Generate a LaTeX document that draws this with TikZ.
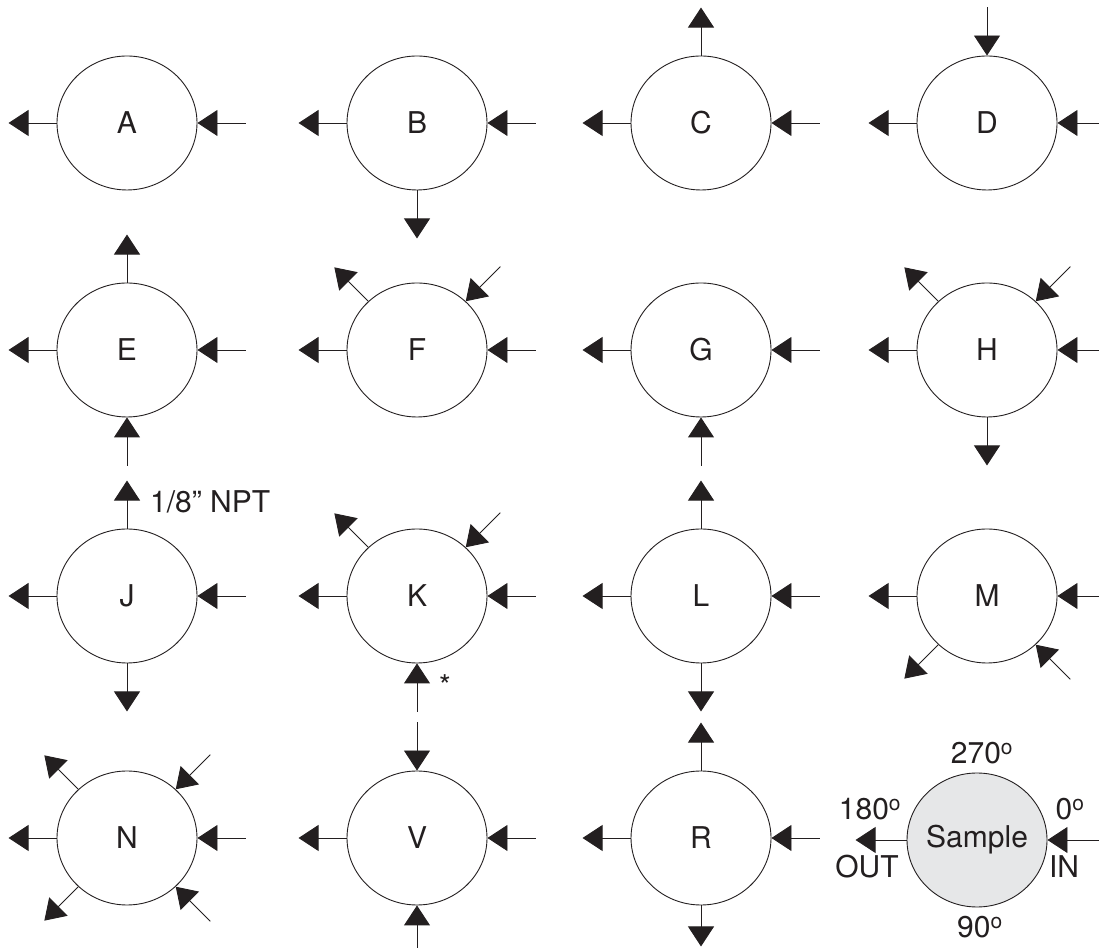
\documentclass[tikz,border=0pt]{standalone}
\usepackage{fontspec}
\setmainfont{TeX Gyre Heros}
\usetikzlibrary{arrows.meta,shapes.geometric}
\definecolor{ink}{RGB}{35,31,32}
\definecolor{samplefill}{RGB}{230,231,232}
\begin{document}
\begin{tikzpicture}[x=1pt,y=1pt,
  port/.style={ellipse, draw=ink, line width=0.9pt, minimum width=140pt, minimum height=134pt, inner sep=0pt, text=ink, font=\fontsize{30}{36}\selectfont},
  outlet/.style={draw=ink, line width=0.9pt, -{Triangle[length=20pt,width=26pt]}},
  inlet/.style={draw=ink, line width=0.9pt, {Triangle[length=20pt,width=26pt]}-},
  lbl/.style={font=\fontsize{30}{36}\selectfont, inner sep=0pt, text=ink}]
\useasboundingbox (0,0) rectangle (1099,949);
% row 1
\node[port] (A) at (127,826) {A};
\node[port] (B) at (417,826) {B};
\node[port] (C) at (701,826) {C};
\node[port] (D) at (987,826) {D};
% row 2
\node[port] (E) at (127,599) {E};
\node[port] (F) at (417,599) {F};
\node[port] (G) at (701,599) {G};
\node[port] (H) at (987,599) {H};
% row 3
\node[port] (J) at (127,353) {J};
\node[port] (K) at (417,353) {K};
\node[port] (L) at (701,353) {L};
\node[port] (M) at (987,353) {M};
% row 4
\node[port] (N) at (127,111) {N};
\node[port] (V) at (417,111) {V};
\node[port] (R) at (701,111) {R};
\node[port, fill=samplefill] (S) at (977,109) {};
% standard side ports
\foreach \n in {A,B,C,D,E,F,G,H,J,K,L,M,N,V,R}{
  \draw[outlet] (\n.west) -- ++(-48,0);
  \draw[inlet] (\n.east) -- ++(49,0);
}
% extra ports
\draw[outlet] (B.south) -- ++(0,-48);
\draw[outlet] (C.north) -- ++(0,48);
\draw[inlet] (D.north) -- ++(0,49);
\draw[outlet] (E.north) -- ++(0,48);
\draw[inlet] (E.south) -- ++(0,-49);
\draw[outlet] (F.135) -- ++(135:48);
\draw[inlet] (F.45) -- ++(45:49);
\draw[inlet] (G.south) -- ++(0,-49);
\draw[outlet] (H.135) -- ++(135:48);
\draw[inlet] (H.45) -- ++(45:49);
\draw[outlet] (H.south) -- ++(0,-48);
\draw[outlet] (J.north) -- ++(0,48);
\draw[outlet] (J.south) -- ++(0,-48);
\draw[outlet] (K.135) -- ++(135:48);
\draw[inlet] (K.45) -- ++(45:49);
\draw[inlet] (K.south) -- ++(0,-49);
\draw[outlet] (L.north) -- ++(0,48);
\draw[outlet] (L.south) -- ++(0,-48);
\draw[outlet] (M.225) -- ++(225:48);
\draw[inlet] (M.315) -- ++(315:49);
\draw[outlet] (N.135) -- ++(135:48);
\draw[inlet] (N.45) -- ++(45:49);
\draw[outlet] (N.225) -- ++(225:48);
\draw[inlet] (N.315) -- ++(315:49);
\draw[inlet] (V.north) -- ++(0,49);
\draw[inlet] (V.south) -- ++(0,-43);
\draw[outlet] (R.north) -- ++(0,48);
\draw[outlet] (R.south) -- ++(0,-41);
\draw[outlet] (S.west) -- ++(-51,0);
\draw[inlet] (S.east) -- ++(53,0);
% labels
\node[lbl, anchor=base west] (npt) at (150,436) {1/8” NPT};
\node[lbl, anchor=base] (star) at (445,252) {*};
\node[lbl, anchor=base] (smp) at (977,101) {Sample};
\node[lbl, anchor=base] (d270) at (982,185) {270\textsuperscript{o}};
\node[lbl, anchor=base] (d90) at (980,11) {90\textsuperscript{o}};
\node[lbl, anchor=base] (d180) at (870,129) {180\textsuperscript{o}};
\node[lbl, anchor=base] (d0) at (1070,129) {0\textsuperscript{o}};
\node[lbl, anchor=base] (out) at (867,71) {OUT};
\node[lbl, anchor=base] (in) at (1064,71) {IN};
\end{tikzpicture}
\end{document}
